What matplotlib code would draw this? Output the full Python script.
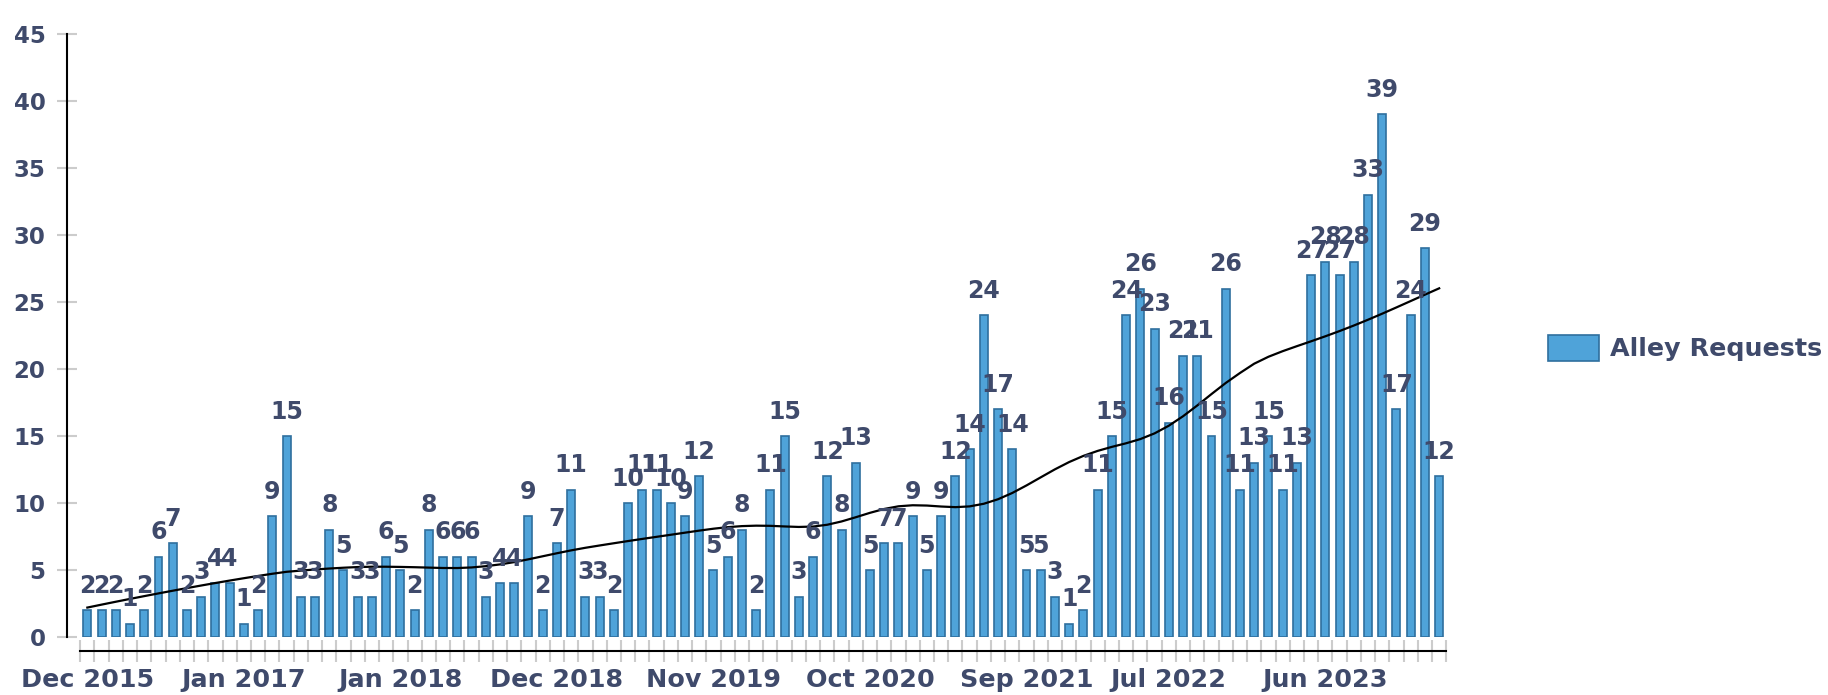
import matplotlib

matplotlib.use("Agg")
import matplotlib.pyplot as plt
import numpy as np

plt.rcParams["font.weight"] = "bold"

# monthly alley requests
requests = [2, 2, 2, 1, 2, 6, 7, 2, 3, 4, 4, 1, 2, 9, 15, 3, 3, 8, 5, 3,
            3, 6, 5, 2, 8, 6, 6, 6, 3, 4, 4, 9, 2, 7, 11, 3, 3, 2, 10, 11,
            11, 10, 9, 12, 5, 6, 8, 2, 11, 15, 3, 6, 12, 8, 13, 5, 7, 7, 9, 5,
            9, 12, 14, 24, 17, 14, 5, 5, 3, 1, 2, 11, 15, 24, 26, 23, 16, 21, 21, 15,
            26, 11, 13, 15, 11, 13, 27, 28, 27, 28, 33, 39, 17, 24, 29, 12]
tick_labels = ["Dec 2015", "Jan 2017", "Jan 2018", "Dec 2018", "Nov 2019",
               "Oct 2020", "Sep 2021", "Jul 2022", "Jun 2023"]
tick_index = [0, 11, 22, 33, 44, 55, 66, 76, 87]
y_ticks = [0, 5, 10, 15, 20, 25, 30, 35, 40, 45]

TEXT = "#3f4a6b"
BAR = "#4fa3d9"
EDGE = "#2f6f9e"
GRID = "#cccccc"


def lowess(values, frac=0.3):
    y = np.asarray(values, dtype=float)
    x = np.arange(len(y), dtype=float)
    r = int(np.ceil(frac * len(y)))
    fit = np.zeros(len(y))
    for i in range(len(y)):
        d = np.abs(x - x[i])
        h = np.sort(d)[r - 1]
        w = (1 - np.clip(d / h, 0, 1) ** 3) ** 3
        xm = (w * x).sum() / w.sum()
        ym = (w * y).sum() / w.sum()
        b = (w * (x - xm) * (y - ym)).sum() / (w * (x - xm) ** 2).sum()
        fit[i] = ym + b * (x[i] - xm)
    return fit


x = np.arange(len(requests))
trend = lowess(requests)

fig = plt.figure(figsize=(18.28, 6.95), dpi=100)
ax = fig.add_axes([67 / 1828, 58 / 695, 1386.4 / 1828, 603 / 695])

bars = ax.bar(x, requests, width=0.56, color=BAR, edgecolor=EDGE, linewidth=1.2,
              label="Alley Requests", zorder=2)
ax.plot(x, trend, color="black", linewidth=1.6, zorder=3)
for i, v in enumerate(requests):
    ax.annotate(str(v), (i, v), xytext=(0, 12.5), textcoords="offset points",
                ha="center", va="baseline", fontsize=17,
                color=TEXT, zorder=4)

ax.set_xlim(-1.43, 96.0)
ax.set_ylim(0, 45)
ax.set_yticks(y_ticks, [str(t) for t in y_ticks])
ax.tick_params(axis="y", direction="inout", length=15, width=1.5, color=GRID,
               pad=8, labelsize=16.5, labelcolor=TEXT)

# category boundaries get the small gray ticks, the date labels sit on minor ticks
ax.set_xticks(np.arange(-0.5, len(requests), 1.0))
ax.set_xticklabels([])
ax.tick_params(axis="x", which="major", direction="inout", length=16.5, width=1.5,
               color=GRID)
ax.set_xticks(tick_index, tick_labels, minor=True)
ax.tick_params(axis="x", which="minor", length=0, pad=12, labelsize=18.3,
               labelcolor=TEXT)

for side in ["top", "right"]:
    ax.spines[side].set_visible(False)
ax.spines["left"].set_linewidth(1.5)
ax.spines["bottom"].set_linewidth(1.5)
ax.spines["bottom"].set_position(("outward", 10))
ax.spines["bottom"].set_bounds(-0.5, len(requests) - 0.5)

fig.legend(handles=[bars], labels=["Alley Requests"], loc="center left",
           bbox_to_anchor=(1548 / 1828, 1 - 348 / 695), frameon=False,
           borderpad=0, borderaxespad=0, handlelength=2.0, handleheight=1.2,
           handletextpad=0.43, labelcolor=TEXT,
           prop={"size": 18.3, "weight": "bold"})

fig.savefig("out.png", dpi=100)
